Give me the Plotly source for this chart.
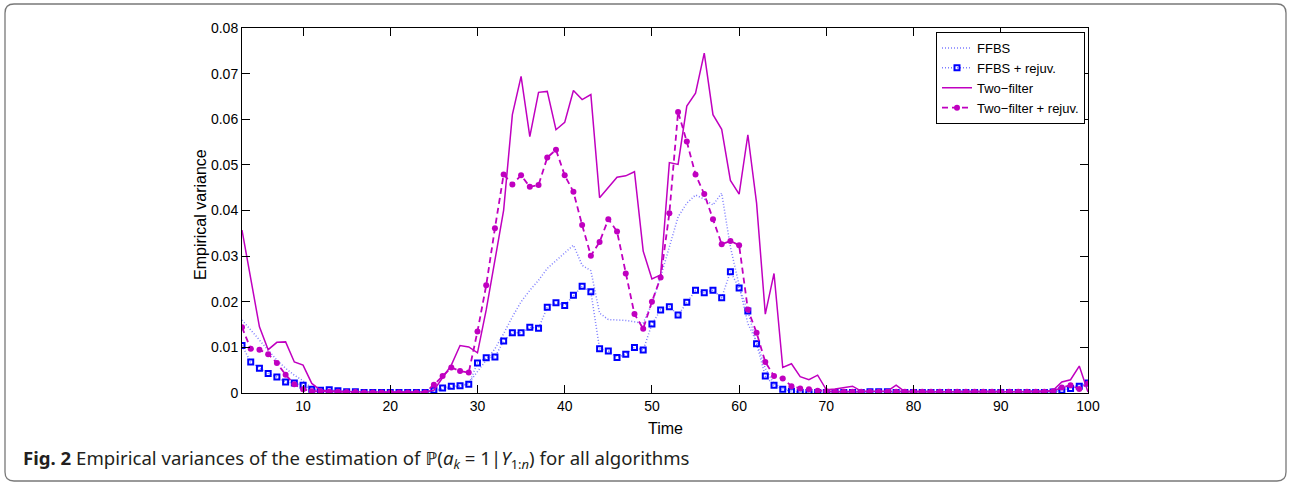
import plotly.graph_objects as go

# ---------------- data ----------------
time = list(range(3, 101))

ffbs = [0.0160, 0.0138, 0.0116, 0.0092, 0.0072, 0.0054, 0.0039, 0.0027, 0.0011, 0.0006,
        0.0005, 0.0004, 0.0003, 0.0003, 0.0002, 0.0002, 0.0002, 0.0002, 0.0002, 0.0002,
        0.0002, 0.0002, 0.0003, 0.0008, 0.0012, 0.0015, 0.0022, 0.0046, 0.0072, 0.0097,
        0.0130, 0.0167, 0.0200, 0.0225, 0.0247, 0.0273, 0.0291, 0.0307, 0.0324, 0.0280,
        0.0268, 0.0175, 0.0161, 0.0160, 0.0159, 0.0156, 0.0153, 0.0196, 0.0255, 0.0320,
        0.0386, 0.0416, 0.0434, 0.0425, 0.0412, 0.0438, 0.0320, 0.0236, 0.0152, 0.0112,
        0.0054, 0.0020, 0.0010, 0.0005, 0.0002, 0.0002, 0.0002, 0.0002, 0.0002, 0.0002,
        0.0002, 0.0002, 0.0002, 0.0002, 0.0002, 0.0002, 0.0002, 0.0002, 0.0002, 0.0002,
        0.0002, 0.0002, 0.0002, 0.0002, 0.0002, 0.0002, 0.0002, 0.0002, 0.0002, 0.0002,
        0.0002, 0.0002, 0.0002, 0.0004, 0.0008, 0.0012, 0.0018, 0.0025]

ffbs_rejuv = [0.0104, 0.0068, 0.0054, 0.0043, 0.0035, 0.0024, 0.0022, 0.0017, 0.0008, 0.0006,
              0.0007, 0.0005, 0.0003, 0.0003, 0.0001, 0.0001, 0.0001, 0.0001, 0.0001, 0.0001,
              0.0001, 0.0001, 0.0006, 0.0011, 0.0015, 0.0016, 0.0019, 0.0066, 0.0077, 0.0079,
              0.0114, 0.0132, 0.0132, 0.0144, 0.0142, 0.0188, 0.0198, 0.0192, 0.0214, 0.0234,
              0.0222, 0.0097, 0.0092, 0.0078, 0.0085, 0.0100, 0.0094, 0.0151, 0.0182, 0.0189,
              0.0171, 0.0199, 0.0225, 0.0220, 0.0225, 0.0209, 0.0266, 0.0230, 0.0180, 0.0108,
              0.0037, 0.0017, 0.0008, 0.0004, 0.0001, 0.0001, 0.0001, 0.0001, 0.0001, 0.0001,
              0.0001, 0.0001, 0.0003, 0.0003, 0.0003, 0.0001, 0.0001, 0.0001, 0.0001, 0.0001,
              0.0001, 0.0001, 0.0001, 0.0001, 0.0001, 0.0001, 0.0001, 0.0001, 0.0001, 0.0001,
              0.0001, 0.0001, 0.0001, 0.0002, 0.0006, 0.0010, 0.0015, 0.0022]

two_filter = [0.0357, 0.0250, 0.0145, 0.0095, 0.0111, 0.0112, 0.0068, 0.0061, 0.0021, 0.0006,
              0.0004, 0.0004, 0.0003, 0.0003, 0.0002, 0.0002, 0.0002, 0.0002, 0.0002, 0.0002,
              0.0002, 0.0003, 0.0006, 0.0034, 0.0061, 0.0104, 0.0101, 0.0088, 0.0182, 0.0291,
              0.0401, 0.0610, 0.0694, 0.0562, 0.0659, 0.0661, 0.0577, 0.0593, 0.0663, 0.0643,
              0.0654, 0.0428, 0.0450, 0.0473, 0.0476, 0.0485, 0.0311, 0.0250, 0.0259, 0.0505,
              0.0501, 0.0629, 0.0657, 0.0745, 0.0610, 0.0578, 0.0466, 0.0436, 0.0566, 0.0416,
              0.0173, 0.0262, 0.0056, 0.0064, 0.0036, 0.0029, 0.0039, 0.0007, 0.0009, 0.0012,
              0.0015, 0.0004, 0.0004, 0.0005, 0.0004, 0.0017, 0.0003, 0.0003, 0.0003, 0.0003,
              0.0003, 0.0003, 0.0003, 0.0003, 0.0003, 0.0003, 0.0003, 0.0003, 0.0003, 0.0003,
              0.0003, 0.0003, 0.0003, 0.0006, 0.0024, 0.0029, 0.0059, 0.0002]

two_filter_rejuv = [0.0144, 0.0097, 0.0095, 0.0085, 0.0066, 0.0040, 0.0019, 0.0008, 0.0004, 0.0004,
                    0.0003, 0.0003, 0.0002, 0.0002, 0.0001, 0.0001, 0.0001, 0.0001, 0.0001, 0.0001,
                    0.0001, 0.0001, 0.0018, 0.0037, 0.0056, 0.0048, 0.0045, 0.0135, 0.0236, 0.0361,
                    0.0479, 0.0457, 0.0477, 0.0452, 0.0456, 0.0516, 0.0533, 0.0477, 0.0441, 0.0368,
                    0.0301, 0.0331, 0.0381, 0.0354, 0.0262, 0.0173, 0.0141, 0.0200, 0.0253, 0.0394,
                    0.0616, 0.0551, 0.0479, 0.0436, 0.0381, 0.0326, 0.0333, 0.0324, 0.0183, 0.0132,
                    0.0068, 0.0037, 0.0032, 0.0015, 0.0010, 0.0008, 0.0005, 0.0004, 0.0003, 0.0003,
                    0.0003, 0.0003, 0.0003, 0.0003, 0.0003, 0.0003, 0.0003, 0.0003, 0.0003, 0.0003,
                    0.0003, 0.0003, 0.0003, 0.0003, 0.0003, 0.0003, 0.0003, 0.0003, 0.0003, 0.0003,
                    0.0003, 0.0003, 0.0003, 0.0004, 0.0012, 0.0017, 0.0009, 0.0021]

series_names = ["FFBS", "FFBS + rejuv.", "Two\u2212filter", "Two\u2212filter + rejuv."]
x_ticks = [10, 20, 30, 40, 50, 60, 70, 80, 90, 100]
y_ticks = [0, 0.01, 0.02, 0.03, 0.04, 0.05, 0.06, 0.07, 0.08]
y_labels = ["0", "0.01", "0.02", "0.03", "0.04", "0.05", "0.06", "0.07", "0.08"]

# ---------------- figure ----------------
W, H = 1291, 484
L, R, T, B = 242, 1088, 28, 393
MAG = "rgb(192,0,192)"
LBLUE = "rgb(125,125,255)"
AX_FONT = "Liberation Sans, Arial, sans-serif"

fig = go.Figure()
fig.add_trace(go.Scatter(x=time, y=ffbs, mode="lines", name=series_names[0],
                         line=dict(color=LBLUE, width=1.5, dash="1px,2px")))
fig.add_trace(go.Scatter(x=time, y=ffbs_rejuv, mode="lines+markers", name=series_names[1],
                         line=dict(color=LBLUE, width=1.5, dash="1px,2px"),
                         marker=dict(symbol="square-open", size=5, color="rgb(0,0,255)",
                                     line=dict(width=2, color="rgb(0,0,255)"))))
fig.add_trace(go.Scatter(x=time, y=two_filter, mode="lines", name=series_names[2],
                         line=dict(color=MAG, width=1.5)))
fig.add_trace(go.Scatter(x=time, y=two_filter_rejuv, mode="lines+markers", name=series_names[3],
                         line=dict(color=MAG, width=1.8, dash="6px,4px"),
                         marker=dict(symbol="circle", size=6, color=MAG)))

def px(xpix):
    return (xpix - L) / (R - L)

def py(ypix):
    return (B - ypix) / (B - T)

# rounded frame around the whole figure
fl, fr, ft, fb, rad = 5, 1286, 4, 481, 9
path = (f"M {px(fl + rad)} {py(ft)} L {px(fr - rad)} {py(ft)} "
        f"Q {px(fr)} {py(ft)} {px(fr)} {py(ft + rad)} "
        f"L {px(fr)} {py(fb - rad)} Q {px(fr)} {py(fb)} {px(fr - rad)} {py(fb)} "
        f"L {px(fl + rad)} {py(fb)} Q {px(fl)} {py(fb)} {px(fl)} {py(fb - rad)} "
        f"L {px(fl)} {py(ft + rad)} Q {px(fl)} {py(ft)} {px(fl + rad)} {py(ft)} Z")
fig.add_shape(type="path", xref="paper", yref="paper", path=path,
              line=dict(color="rgb(120,120,120)", width=1.3), layer="below")

axis_common = dict(showline=True, linecolor="black", linewidth=1, mirror="ticks",
                   ticks="inside", ticklen=8, tickcolor="black", tickwidth=1,
                   showgrid=False, zeroline=False,
                   tickfont=dict(family=AX_FONT, size=14, color="black"))

fig.update_xaxes(range=[3, 100], tickvals=x_ticks, **axis_common)
fig.update_yaxes(range=[0, 0.08], tickvals=y_ticks, ticktext=y_labels, **axis_common)

fig.add_annotation(text="Time", xref="paper", yref="paper", x=px(665), y=py(428),
                   xanchor="center", yanchor="middle", showarrow=False,
                   font=dict(family=AX_FONT, size=16, color="black"))
fig.add_annotation(text="Empirical variance", xref="paper", yref="paper", x=px(200), y=py(215),
                   xanchor="center", yanchor="middle", showarrow=False, textangle=-90,
                   font=dict(family=AX_FONT, size=16, color="black"))
fig.add_annotation(
    text="<b>Fig. 2</b> Empirical variances of the estimation of \u2119(<i>a</i><sub><i>k</i></sub> = 1|<i>Y</i><sub>1:<i>n</i></sub>) for all algorithms",
    xref="paper", yref="paper", x=px(21), y=py(459), xanchor="left", yanchor="middle",
    showarrow=False, font=dict(family="Noto Sans, sans-serif", size=18.6, color="rgb(35,31,32)"))

fig.update_layout(
    width=W, height=H,
    margin=dict(l=L, r=W - R, t=T, b=H - B, autoexpand=False),
    paper_bgcolor="white", plot_bgcolor="white",
    showlegend=True,
    legend=dict(x=px(1085), y=py(32), xanchor="right", yanchor="top",
                bgcolor="white", bordercolor="black", borderwidth=1,
                font=dict(family=AX_FONT, size=13, color="black"),
                itemwidth=30, tracegroupgap=0),
)

fig.write_html("out.html", config={"displayModeBar": False},
               post_script="document.body.style.margin='0';document.body.style.padding='0';")
